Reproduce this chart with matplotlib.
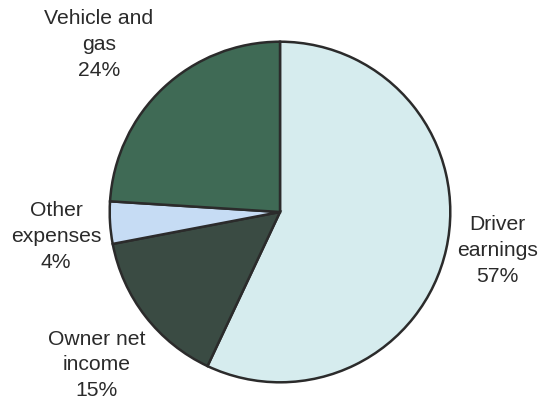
import matplotlib
matplotlib.use("Agg")
import matplotlib.pyplot as plt

# Revenue breakdown (clockwise from 12 o'clock)
categories = ["Driver\nearnings", "Owner net\nincome", "Other\nexpenses", "Vehicle and\ngas"]
shares = [57, 15, 4, 24]
colors = ["#d6ecee", "#3a4b43", "#c6dcf4", "#3f6a55"]

# Label anchor positions in figure fractions
label_pos = [(0.915, 0.380), (0.178, 0.097), (0.103, 0.414), (0.182, 0.890)]

plt.rcParams["font.family"] = ["Liberation Sans", "DejaVu Sans"]

fig = plt.figure(figsize=(5.44, 4.04), dpi=100)
ax = fig.add_axes([108 / 544, (404 - 384) / 404, 344 / 544, 344 / 404])

ax.pie(shares, colors=colors, startangle=90, counterclock=False,
       wedgeprops=dict(edgecolor="#2b2b2b", linewidth=1.8), radius=1.0)
ax.set_xlim(-1.01, 1.01)
ax.set_ylim(-1.01, 1.01)
ax.set_aspect("equal")
ax.axis("off")

for name, val, (x, y) in zip(categories, shares, label_pos):
    fig.text(x, y, f"{name}\n{val}%", ha="center", va="center",
             fontsize=15.2, color="#2a2a2a", linespacing=1.45)

fig.savefig("out.png", dpi=100, facecolor="white")
